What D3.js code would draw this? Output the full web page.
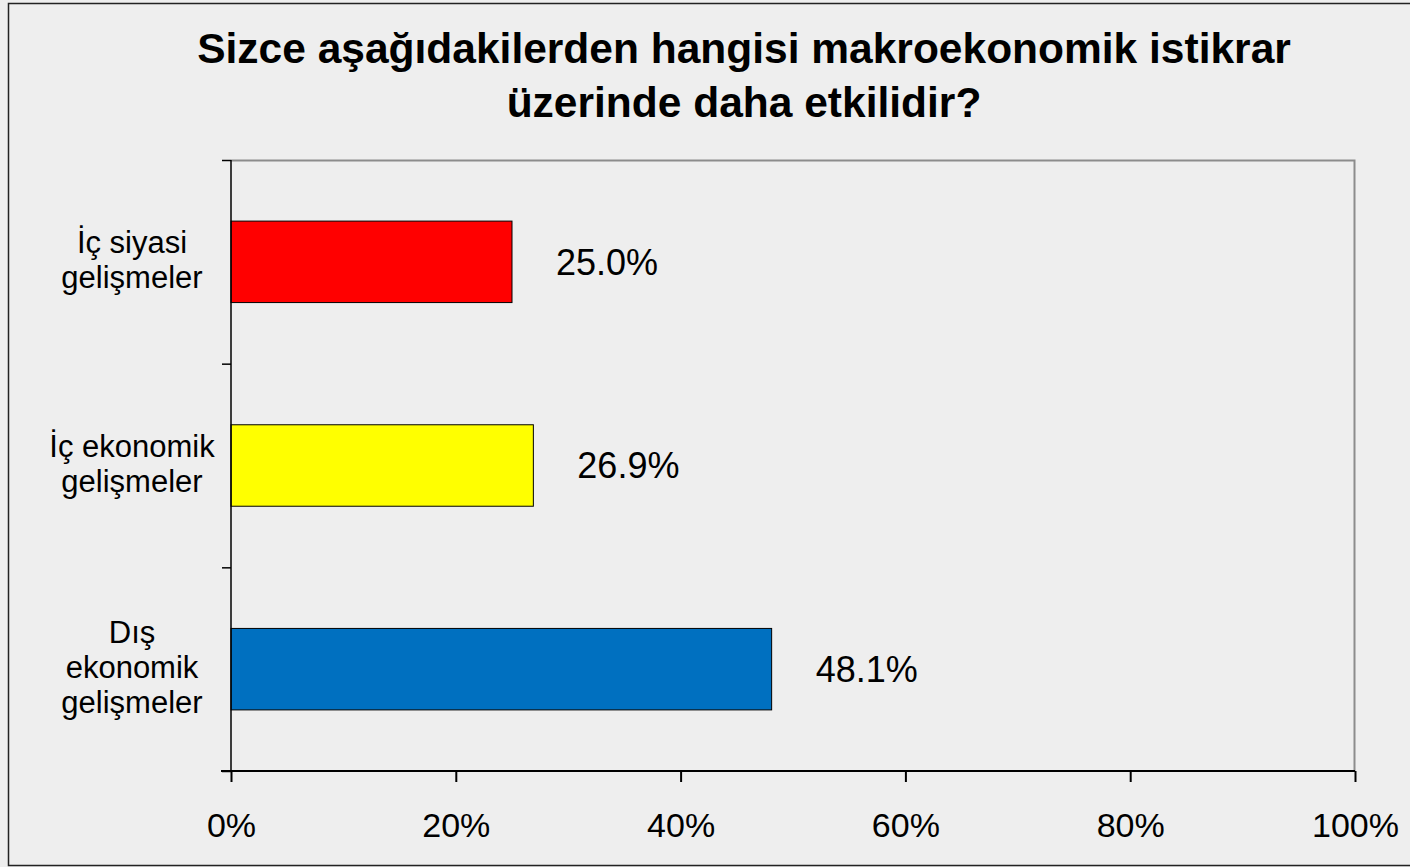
<!DOCTYPE html>
<html>
<head>
<meta charset="utf-8">
<script src="https://d3js.org/d3.v7.min.js"></script>
<style>
  body { margin: 0; background: #eeeeee; }
  svg text { font-family: "Liberation Sans", Arial, sans-serif; fill: #000; }
</style>
</head>
<body>
<div id="chart"></div>
<script>
// chart data
var categories = [["İç siyasi", "gelişmeler"], ["İç ekonomik", "gelişmeler"], ["Dış", "ekonomik", "gelişmeler"]];
var values = [25.0, 26.9, 48.1];
var colors = ["#ff0000", "#ffff00", "#0070c0"];
var xTicks = [0, 20, 40, 60, 80, 100];
var titleLines = ["Sizce aşağıdakilerden hangisi makroekonomik istikrar", "üzerinde daha etkilidir?"];

var svgWidth = 1410;
var svgHeight = 867;
var margin = { top: 160, right: 55, bottom: 96, left: 231 };
var width = svgWidth - margin.left - margin.right;
var height = svgHeight - margin.top - margin.bottom;

var svg = d3.select("#chart")
  .append("svg")
  .attr("width", svgWidth)
  .attr("height", svgHeight);

// outer frame
svg.append("rect")
  .attr("x", 8.5).attr("y", 3.5)
  .attr("width", svgWidth).attr("height", svgHeight - 5)
  .attr("fill", "#eeeeee")
  .attr("stroke", "#222")
  .attr("stroke-width", 1.5);

// title
svg.append("text")
  .attr("x", 744)
  .attr("text-anchor", "middle")
  .style("font-weight", "bold")
  .style("font-size", "42.5px")
  .selectAll("tspan")
  .data(titleLines)
  .enter()
  .append("tspan")
  .attr("x", 744)
  .attr("y", (d, i) => 63 + i * 54)
  .text(d => d);

var chartGroup = svg.append("g")
  .attr("transform", `translate(${margin.left}, ${margin.top})`);

var xScale = d3.scaleLinear().domain([0, 100]).range([0, width]);
var yBand = d3.scaleBand()
  .domain(d3.range(values.length))
  .range([0, height])
  .paddingInner(0.6)
  .paddingOuter(0.3);
var yEdges = d3.scaleLinear().domain([0, values.length]).range([0, height]);

// plot area border (top & right)
chartGroup.append("path")
  .attr("d", `M0,0.5H${width - 0.5}V${height}`)
  .attr("fill", "none")
  .attr("stroke", "#8c8c8c")
  .attr("stroke-width", 2);

// bars
chartGroup.selectAll(".bar")
  .data(values)
  .enter()
  .append("rect")
  .attr("class", "bar")
  .attr("x", 0)
  .attr("y", (d, i) => yBand(i))
  .attr("width", d => xScale(d))
  .attr("height", yBand.bandwidth())
  .attr("fill", (d, i) => colors[i])
  .attr("stroke", "#000")
  .attr("stroke-width", 1);

// value labels
chartGroup.selectAll(".val")
  .data(values)
  .enter()
  .append("text")
  .attr("class", "val")
  .attr("x", d => xScale(d) + 44)
  .attr("y", (d, i) => yBand(i) + yBand.bandwidth() / 2)
  .attr("dy", "0.36em")
  .style("font-size", "36px")
  .text(d => d.toFixed(1) + "%");

// x axis
var xAxis = chartGroup.append("g")
  .attr("transform", `translate(0, ${height})`)
  .call(d3.axisBottom(xScale)
    .tickValues(xTicks)
    .tickSize(11)
    .tickPadding(31)
    .tickFormat(d => d + "%"));
xAxis.selectAll("path, line").attr("stroke", "#000").attr("stroke-width", 2);
xAxis.select(".domain").attr("d", `M-10,0H${width}`);
xAxis.selectAll("text").style("font-size", "34px").attr("dy", "0.71em");

// y axis (ticks at category edges)
var yAxis = chartGroup.append("g")
  .call(d3.axisLeft(yEdges)
    .tickValues(d3.range(values.length + 1))
    .tickSize(9)
    .tickFormat(""));
yAxis.selectAll("path, line").attr("stroke", "#000").attr("stroke-width", 1.5);
yAxis.select(".domain").attr("d", `M0,0V${height}`);

// category labels
var catLabels = chartGroup.selectAll(".cat")
  .data(categories)
  .enter()
  .append("text")
  .attr("class", "cat")
  .attr("text-anchor", "middle")
  .style("font-size", "31px");

catLabels.selectAll("tspan")
  .data((d, i) => d.map((line, j) => ({ line: line, j: j, n: d.length, i: i })))
  .enter()
  .append("tspan")
  .attr("x", -99)
  .attr("y", d => yBand(d.i) + yBand.bandwidth() / 2 + (d.j - (d.n - 1) / 2) * 35)
  .attr("dy", "0.28em")
  .text(d => d.line);
</script>
</body>
</html>
